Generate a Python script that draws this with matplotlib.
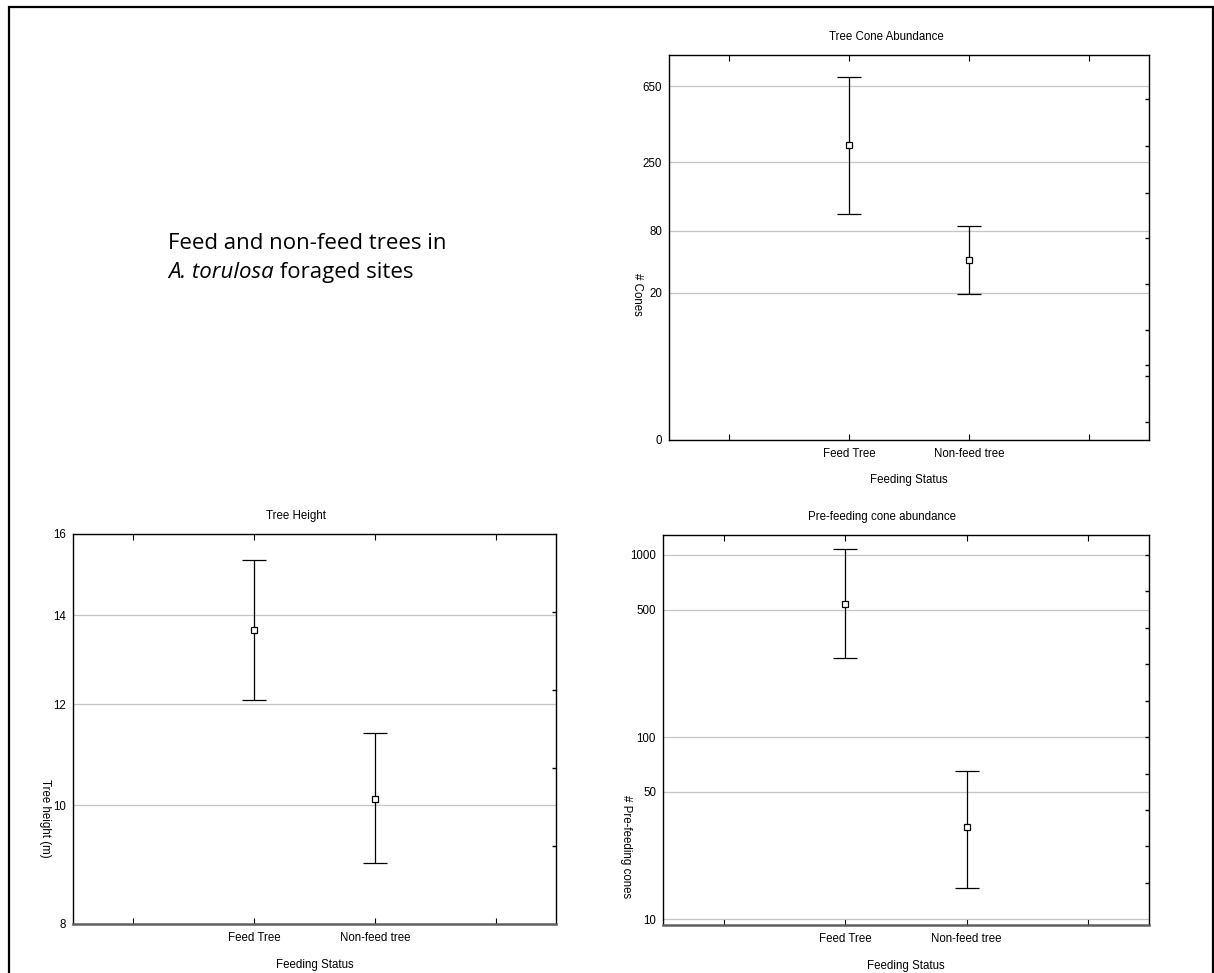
import matplotlib
matplotlib.use('Agg')
import matplotlib.pyplot as plt
from matplotlib.patches import Rectangle
import numpy as np

plt.rcParams['font.family'] = ['Liberation Sans Narrow', 'Liberation Sans', 'DejaVu Sans']
plt.rcParams['font.size'] = 8.3

# data
groups = ['Feed Tree', 'Non-feed tree']
xlab = 'Feeding Status'

cone_mean = [338, 52]
cone_low = [121, 19.8]
cone_high = [699, 93]
cone_ticks = [0, 20, 80, 250, 650]

height_mean = [13.68, 10.13]
height_low = [12.11, 9.02]
height_high = [15.35, 11.43]
height_ticks = [8, 10, 12, 14, 16]

pre_mean = [540, 32.0]
pre_low = [271, 14.9]
pre_high = [1073, 65.5]
pre_ticks = [10, 50, 100, 500, 1000]


def knot_scale(vals, pos):
    # piecewise axis like the original stats package output
    fwd = lambda v: np.interp(v, vals, pos)
    inv = lambda p: np.interp(p, pos, vals)
    return fwd, inv


def panel(ax, mean, low, high, ticks, title, ylabel, title_x, ylab_xy, right_ticks, right_lim=(0, 1)):
    x = np.arange(1, len(groups) + 1)
    mean = np.array(mean)
    err = [mean - np.array(low), np.array(high) - mean]
    ax.errorbar(x, mean, yerr=err, fmt='s', mfc='white', mec='black', mew=0.9, ms=4.5,
                ecolor='black', elinewidth=0.9, capsize=8.5, capthick=1.3, zorder=3)
    ax.set_xlim(-0.5, 3.5)
    ax.set_xticks([0, 1, 2, 3], [''] + groups + [''])
    ax.tick_params(axis='x', top=True, direction='in', length=4, width=0.8, pad=6)
    ax.set_yticks(ticks, [str(t) for t in ticks])
    ax.yaxis.set_minor_locator(matplotlib.ticker.NullLocator())
    ax.tick_params(axis='y', length=0, pad=5)
    ax.grid(axis='y', color='#c4c4c4', lw=0.9)
    ax.set_axisbelow(True)
    for s in ax.spines.values():
        s.set_linewidth(1.0)
    ax.text(title_x, 1.047, title, transform=ax.transAxes, ha='center', va='center')
    ax.set_ylabel(ylabel, rotation=270, va='center', ha='center')
    ax.yaxis.set_label_coords(*ylab_xy)
    ax.set_xlabel(xlab, va='center')
    ax.xaxis.set_label_coords(0.5, -0.105)

    tw = ax.twinx()
    tw.set_ylim(*right_lim)
    tw.set_yticks(right_ticks)
    tw.tick_params(axis='y', direction='in', length=3, width=1.0, labelright=False)
    for s in tw.spines.values():
        s.set_visible(False)


fig = plt.figure(figsize=(12.14, 9.73), dpi=100)

# top right: tree cone abundance
ax1 = fig.add_axes([0.551, 0.5478, 0.3954, 0.3957])
f, i = knot_scale([0, 20, 80, 250, 650, 813], [0, 0.382, 0.543, 0.722, 0.919, 1.0])
ax1.set_yscale('function', functions=(f, i))
ax1.set_ylim(0, 813)
panel(ax1, cone_mean, cone_low, cone_high, cone_ticks, 'Tree Cone Abundance', '# Cones',
      0.454, (-0.066, 0.377),
      [0.047, 0.166, 0.195, 0.286, 0.405, 0.525, 0.642, 0.764, 0.886])

# bottom left: tree height
ax2 = fig.add_axes([0.0601, 0.0504, 0.3979, 0.4008])
f, i = knot_scale([8, 10, 12, 14, 16], [0, 0.304, 0.563, 0.791, 1.0])
ax2.set_yscale('function', functions=(f, i))
ax2.set_ylim(8, 16)
panel(ax2, height_mean, height_low, height_high, height_ticks, 'Tree Height', 'Tree height (m)',
      0.462, (-0.058, 0.27), [1, 2, 3, 4], right_lim=(0, 5))
ax2.spines['bottom'].set_linewidth(1.8)
ax2.spines['bottom'].set_color('#606060')

# bottom right: pre-feeding cones (log)
ax3 = fig.add_axes([0.5461, 0.0493, 0.4003, 0.4008])
ax3.set_yscale('log')
ax3.set_ylim(9.31, 1283)
panel(ax3, pre_mean, pre_low, pre_high, pre_ticks, 'Pre-feeding cone abundance', '# Pre-feeding cones',
      0.45, (-0.077, 0.201), np.arange(1.2, 3.01, 0.2), right_lim=(np.log10(9.31), np.log10(1283)))
ax3.spines['bottom'].set_linewidth(1.8)
ax3.spines['bottom'].set_color('#606060')

# caption text
cap_font = ['Open Sans', 'DejaVu Sans']
fig.text(168 / 1214, 1 - 249 / 973, 'Feed and non-feed trees in', family=cap_font, size=16, va='baseline')
t = fig.text(168 / 1214, 1 - 278 / 973, 'A. torulosa', family=cap_font, size=16, style='italic', va='baseline')
fig.add_artist(plt.Annotation(' foraged sites', xy=(1, 0), xycoords=t, family=cap_font, size=16, va='bottom'))

# slide border
fig.add_artist(Rectangle((9 / 1214, -0.05), 1203.5 / 1214, 1.05 - 7 / 973, transform=fig.transFigure,
                         fill=False, lw=1.6, ec='black'))

fig.savefig('out.png', dpi=100)
